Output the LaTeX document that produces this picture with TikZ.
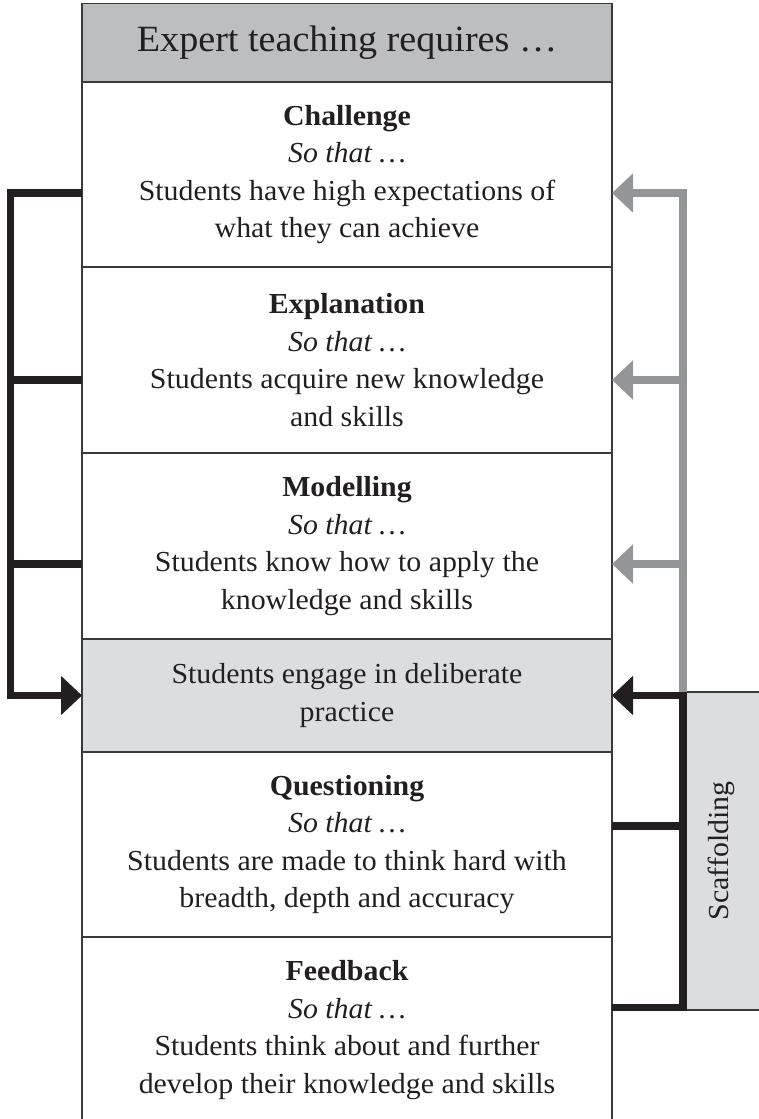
\documentclass[tikz,border=0pt]{standalone}
\usepackage{fontspec}
\setmainfont{Liberation Serif}[FakeStretch=1.03]
\usetikzlibrary{arrows.meta}

\definecolor{ink}{HTML}{231F20}
\definecolor{rulegray}{HTML}{3A3A3C}
\definecolor{headfill}{HTML}{BCBEC0}
\definecolor{softfill}{HTML}{DCDDDF}
\definecolor{scafgray}{HTML}{939598}

\newcommand{\bodytext}{\fontsize{29pt}{37.5pt}\selectfont}
\newcommand{\headtext}{\fontsize{37pt}{42pt}\selectfont}

\begin{document}
\begin{tikzpicture}[x=1pt,y=-1pt,
  panel/.style={draw=rulegray, line width=1.3pt, minimum width=530pt,
    inner sep=0pt, outer sep=0pt, align=center, text=ink, font=\bodytext,
    anchor=north},
  link/.style={line width=7.5pt, line join=miter},
  blacklink/.style={link, draw=ink},
  graylink/.style={link, draw=scafgray},
  tipped/.style={-{Triangle[length=21pt,width=38pt]}},
]
\useasboundingbox (0,0) rectangle (759,1119);

% the column of panels
\node[panel, fill=headfill, minimum height=78.5pt, font=\headtext] (header) at (347,3.5)
  {Expert teaching requires …};
\node[panel, minimum height=185pt] (challenge) at (347,82)
  {\textbf{Challenge}\\\textit{So that …}\\Students have high expectations of\\what they can achieve};
\node[panel, minimum height=186pt] (explanation) at (347,267)
  {\textbf{Explanation}\\\textit{So that …}\\Students acquire new knowledge\\and skills};
\node[panel, minimum height=186pt] (modelling) at (347,453)
  {\textbf{Modelling}\\\textit{So that …}\\Students know how to apply the\\knowledge and skills};
\node[panel, fill=softfill, minimum height=113pt] (practice) at (347,639)
  {Students engage in deliberate\\practice};
\node[panel, minimum height=185pt] (questioning) at (347,752)
  {\textbf{Questioning}\\\textit{So that …}\\Students are made to think hard with\\breadth, depth and accuracy};
\node[panel, minimum height=186pt] (feedback) at (347,937)
  {\textbf{Feedback}\\\textit{So that …}\\Students think about and further\\develop their knowledge and skills};

% scaffolding side box
\node[draw=rulegray, line width=1.3pt, fill=softfill, anchor=north west,
  minimum width=82pt, minimum height=318pt, inner sep=0pt, outer sep=0pt]
  (scaf) at (683,692) {};
\node[rotate=90, font=\bodytext, text=ink] (scaflabel) at (721,851) {Scaffolding};

% connection points on the panel edges
\path ([yshift=-18.5pt]challenge.west) coordinate (cw)
      ([yshift=-18.5pt]challenge.east) coordinate (ce)
      ([yshift=-20pt]explanation.west) coordinate (ew)
      ([yshift=-20pt]explanation.east) coordinate (ee)
      ([yshift=-18pt]modelling.west) coordinate (mw)
      ([yshift=-18pt]modelling.east) coordinate (me)
      ([yshift=18.5pt]questioning.east) coordinate (qe)
      ([yshift=22.5pt]feedback.east) coordinate (fe);
\coordinate (busL) at (10.5,0);
\coordinate (busR) at (683,0);

% grey feedback loop on the right
\draw[graylink, tipped] (scaf.north west) |- (ce);
\draw[graylink, tipped] (ee -| busR) -- (ee);
\draw[graylink, tipped] (me -| busR) -- (me);

% black bracket on the right
\draw[blacklink, tipped] (fe) -| (busR |- practice.east) -- (practice.east);
\draw[blacklink] (qe) -- (qe -| busR);

% black bracket on the left
\draw[blacklink, tipped] (cw) -| (busL |- practice.west) -- (practice.west);
\draw[blacklink] (ew) -- (ew -| busL);
\draw[blacklink] (mw) -- (mw -| busL);
\end{tikzpicture}
\end{document}
